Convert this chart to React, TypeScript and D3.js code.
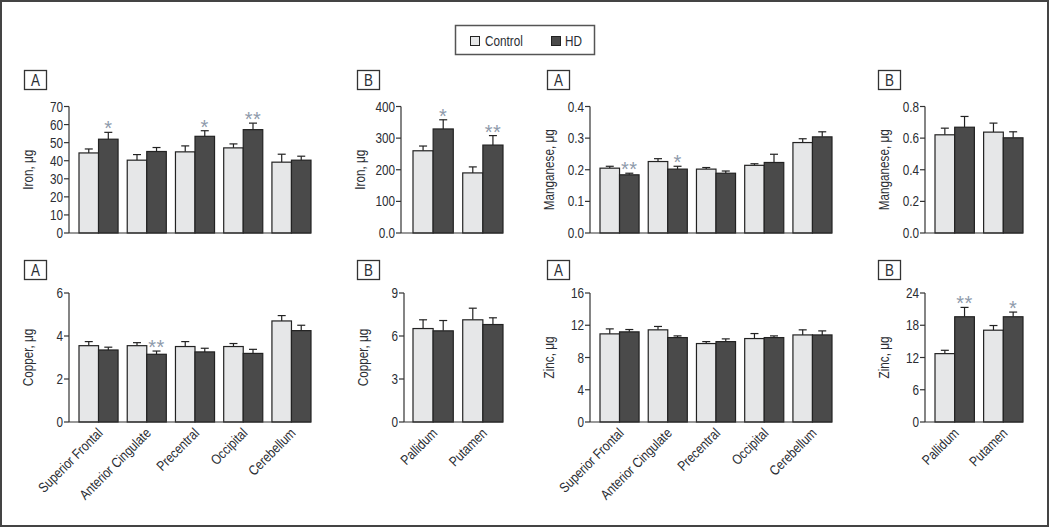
import React from "react";
import * as d3 from "d3";

const regionsA = ["Superior Frontal", "Anterior Cingulate", "Precentral", "Occipital", "Cerebellum"];
const regionsB = ["Pallidum", "Putamen"];
const legendLabels = ["Control", "HD"];

// Iron
const ironAControl = [44.3, 40.3, 44.9, 47.1, 39.2];
const ironAControlSem = [2.2, 3.1, 3.3, 2.2, 4.4];
const ironAHD = [51.9, 45.1, 53.5, 57.2, 40.3];
const ironAHDSem = [3.8, 2.2, 3.1, 3.6, 2.2];
const ironASig = ["*", "", "*", "**", ""];
const ironATicks = [0, 10, 20, 30, 40, 50, 60, 70];
const ironATickLabels = ["0", "10", "20", "30", "40", "50", "60", "70"];

const ironBControl = [260, 190];
const ironBControlSem = [15, 19];
const ironBHD = [329, 278];
const ironBHDSem = [29, 30];
const ironBSig = ["*", "**"];
const ironBTicks = [0, 100, 200, 300, 400];
const ironBTickLabels = ["0.0", "100", "200", "300", "400"];

// Manganese
const mnAControl = [0.205, 0.226, 0.202, 0.214, 0.286];
const mnAControlSem = [0.006, 0.009, 0.005, 0.005, 0.012];
const mnAHD = [0.184, 0.202, 0.189, 0.223, 0.304];
const mnAHDSem = [0.005, 0.009, 0.007, 0.026, 0.016];
const mnASig = ["**", "*", "", "", ""];
const mnATicks = [0, 0.1, 0.2, 0.3, 0.4];
const mnATickLabels = ["0.0", "0.1", "0.2", "0.3", "0.4"];

const mnBControl = [0.621, 0.638];
const mnBControlSem = [0.042, 0.057];
const mnBHD = [0.669, 0.602];
const mnBHDSem = [0.068, 0.038];
const mnBSig = ["", ""];
const mnBTicks = [0, 0.2, 0.4, 0.6, 0.8];
const mnBTickLabels = ["0.0", "0.2", "0.4", "0.6", "0.8"];

// Copper
const cuAControl = [3.55, 3.55, 3.51, 3.51, 4.7];
const cuAControlSem = [0.19, 0.14, 0.23, 0.14, 0.25];
const cuAHD = [3.35, 3.15, 3.26, 3.19, 4.25];
const cuAHDSem = [0.13, 0.15, 0.17, 0.19, 0.25];
const cuASig = ["", "**", "", "", ""];
const cuATicks = [0, 2, 4, 6];
const cuATickLabels = ["0", "2", "4", "6"];

const cuBControl = [6.52, 7.13];
const cuBControlSem = [0.61, 0.81];
const cuBHD = [6.36, 6.8];
const cuBHDSem = [0.72, 0.47];
const cuBSig = ["", ""];
const cuBTicks = [0, 3, 6, 9];
const cuBTickLabels = ["0", "3", "6", "9"];

// Zinc
const znAControl = [10.93, 11.43, 9.73, 10.35, 10.8];
const znAControlSem = [0.62, 0.42, 0.24, 0.62, 0.63];
const znAHD = [11.18, 10.47, 9.97, 10.47, 10.8];
const znAHDSem = [0.29, 0.21, 0.34, 0.21, 0.5];
const znASig = ["", "", "", "", ""];
const znATicks = [0, 4, 8, 12, 16];
const znATickLabels = ["0", "4", "8", "12", "16"];

const znBControl = [12.72, 17.08];
const znBControlSem = [0.62, 0.87];
const znBHD = [19.58, 19.58];
const znBHDSem = [1.74, 0.87];
const znBSig = ["**", "*"];
const znBTicks = [0, 6, 12, 18, 24];
const znBTickLabels = ["0", "6", "12", "18", "24"];

const FONT = "'Liberation Sans', Arial, sans-serif";
const SX = 0.84; // horizontal condensing of text
const CONTROL_FILL = "#e6e7e8";
const HD_FILL = "#4a4a4a";
const STROKE = "#222";
const TEXT = "#2a2d33";
const STAR = "#8e9aab";

type Panel = {
  key: string;
  letter: string;
  title: string;
  cats: string[];
  control: number[];
  controlSem: number[];
  hd: number[];
  hdSem: number[];
  sig: string[];
  ticks: number[];
  tickLabels: string[];
  col: number;
  row: number;
  axisX: number;
};

const panels: Panel[] = [
  { key: "ironA", letter: "A", title: "Iron, \u03bcg", cats: regionsA, control: ironAControl, controlSem: ironAControlSem, hd: ironAHD, hdSem: ironAHDSem, sig: ironASig, ticks: ironATicks, tickLabels: ironATickLabels, col: 0, row: 0, axisX: 69 },
  { key: "ironB", letter: "B", title: "Iron, \u03bcg", cats: regionsB, control: ironBControl, controlSem: ironBControlSem, hd: ironBHD, hdSem: ironBHDSem, sig: ironBSig, ticks: ironBTicks, tickLabels: ironBTickLabels, col: 1, row: 0, axisX: 401 },
  { key: "mnA", letter: "A", title: "Manganese, \u03bcg", cats: regionsA, control: mnAControl, controlSem: mnAControlSem, hd: mnAHD, hdSem: mnAHDSem, sig: mnASig, ticks: mnATicks, tickLabels: mnATickLabels, col: 2, row: 0, axisX: 590 },
  { key: "mnB", letter: "B", title: "Manganese, \u03bcg", cats: regionsB, control: mnBControl, controlSem: mnBControlSem, hd: mnBHD, hdSem: mnBHDSem, sig: mnBSig, ticks: mnBTicks, tickLabels: mnBTickLabels, col: 3, row: 0, axisX: 925 },
  { key: "cuA", letter: "A", title: "Copper, \u03bcg", cats: regionsA, control: cuAControl, controlSem: cuAControlSem, hd: cuAHD, hdSem: cuAHDSem, sig: cuASig, ticks: cuATicks, tickLabels: cuATickLabels, col: 0, row: 1, axisX: 69 },
  { key: "cuB", letter: "B", title: "Copper, \u03bcg", cats: regionsB, control: cuBControl, controlSem: cuBControlSem, hd: cuBHD, hdSem: cuBHDSem, sig: cuBSig, ticks: cuBTicks, tickLabels: cuBTickLabels, col: 1, row: 1, axisX: 404 },
  { key: "znA", letter: "A", title: "Zinc, \u03bcg", cats: regionsA, control: znAControl, controlSem: znAControlSem, hd: znAHD, hdSem: znAHDSem, sig: znASig, ticks: znATicks, tickLabels: znATickLabels, col: 2, row: 1, axisX: 590 },
  { key: "znB", letter: "B", title: "Zinc, \u03bcg", cats: regionsB, control: znBControl, controlSem: znBControlSem, hd: znBHD, hdSem: znBHDSem, sig: znBSig, ticks: znBTicks, tickLabels: znBTickLabels, col: 3, row: 1, axisX: 925 },
];

const colBars = [
  [79, 311],
  [413, 503],
  [600, 832],
  [935, 1023],
];
const colBox = [24, 357, 547, 878];
const rowY = [
  { bottom: 233, top: 106.5, box: 70 },
  { bottom: 422, top: 293, box: 260 },
];

function T({ x, y, rot, anchor, size, fill, dy, children, ls }: any) {
  const tr = `translate(${x},${y})${rot ? ` rotate(${rot})` : ""} scale(${SX},1)`;
  return (
    <text transform={tr} textAnchor={anchor || "start"} fontSize={size} fill={fill || TEXT} dy={dy} letterSpacing={ls}>
      {children}
    </text>
  );
}

function PanelView({ p }: { p: Panel }) {
  const [bx0, bx1] = colBars[p.col];
  const r = rowY[p.row];
  const y = d3.scaleLinear().domain([p.ticks[0], p.ticks[p.ticks.length - 1]]).range([r.bottom, r.top]);
  const x = d3.scaleBand<string>().domain(p.cats).range([bx0, bx1]).paddingInner(0.19).paddingOuter(0);
  const sub = d3.scaleBand<string>().domain(legendLabels).range([0, x.bandwidth()]).padding(0);
  const bw = sub.bandwidth();
  const titleX = p.axisX - 36;
  const midY = (r.bottom + r.top) / 2;
  const series = [
    { name: "Control", vals: p.control, sem: p.controlSem, fill: CONTROL_FILL },
    { name: "HD", vals: p.hd, sem: p.hdSem, fill: HD_FILL },
  ];
  return (
    <g>
      <rect x={colBox[p.col] + 0.5} y={r.box + 0.5} width={22} height={19} fill="#fff" stroke="#333" strokeWidth={1.3} />
      <T x={colBox[p.col] + 11.5} y={r.box + 15.5} anchor="middle" size={16}>{p.letter}</T>
      <T x={titleX} y={midY} rot={-90} anchor="middle" size={14}>{p.title}</T>
      {series.map((s) =>
        p.cats.map((c, i) => {
          const x0 = (x(c) as number) + (sub(s.name) as number);
          const yv = y(s.vals[i]);
          const ye = y(s.vals[i] + s.sem[i]);
          const cx = x0 + bw / 2;
          return (
            <g key={s.name + c}>
              <line x1={cx} x2={cx} y1={yv} y2={ye} stroke={STROKE} strokeWidth={1.2} />
              <line x1={cx - 4} x2={cx + 4} y1={ye} y2={ye} stroke={STROKE} strokeWidth={1.2} />
              <rect x={x0} y={yv} width={bw} height={r.bottom - yv} fill={s.fill} stroke={STROKE} strokeWidth={1.2} />
            </g>
          );
        })
      )}
      {p.cats.map((c, i) =>
        p.sig[i] ? (
          <text key={"s" + c} x={(x(c) as number) + (sub("HD") as number) + bw / 2} y={y(p.hd[i] + p.hdSem[i]) + 3} textAnchor="middle" fontSize={20} fill={STAR} letterSpacing={0.5}>{p.sig[i]}</text>
        ) : null
      )}
      <line x1={p.axisX} x2={p.axisX} y1={r.bottom} y2={r.top} stroke="#333" strokeWidth={1.2} />
      <line x1={p.axisX} x2={bx1} y1={r.bottom} y2={r.bottom} stroke="#333" strokeWidth={1.2} />
      {p.ticks.map((t, i) => (
        <g key={"t" + t}>
          <line x1={p.axisX - 5} x2={p.axisX} y1={y(t)} y2={y(t)} stroke="#333" strokeWidth={1.2} />
          <T x={p.axisX - 6} y={y(t)} dy="0.36em" anchor="end" size={14}>{p.tickLabels[i]}</T>
        </g>
      ))}
      {p.row === 1 &&
        p.cats.map((c) => {
          const cx = (x(c) as number) + x.bandwidth() / 2 + 5;
          const ly = r.bottom + 12;
          return (
            <T key={"x" + c} x={cx} y={ly} rot={-45} anchor="end" size={14}>{c}</T>
          );
        })}
    </g>
  );
}

export default function App() {
  return (
    <svg width={1050} height={527} style={{ position: "absolute", left: 0, top: 0, background: "#fff" }} fontFamily={FONT}>
      <rect x={0} y={0} width={1050} height={527} fill="#fff" />
      <rect x={1} y={1} width={1047} height={525} fill="none" stroke="#444" strokeWidth={2} />
      <g>
        <rect x={455.5} y={25.5} width={139} height={29} fill="#fff" stroke="#555" strokeWidth={1.5} />
        <rect x={470.5} y={36.5} width={9} height={9} fill={CONTROL_FILL} stroke={STROKE} strokeWidth={1} />
        <T x={485} y={45.5} size={14}>{legendLabels[0]}</T>
        <rect x={551.5} y={36.5} width={9} height={9} fill={HD_FILL} stroke={STROKE} strokeWidth={1} />
        <T x={565} y={45.5} size={14}>{legendLabels[1]}</T>
      </g>
      {panels.map((p) => (
        <PanelView key={p.key} p={p} />
      ))}
    </svg>
  );
}
